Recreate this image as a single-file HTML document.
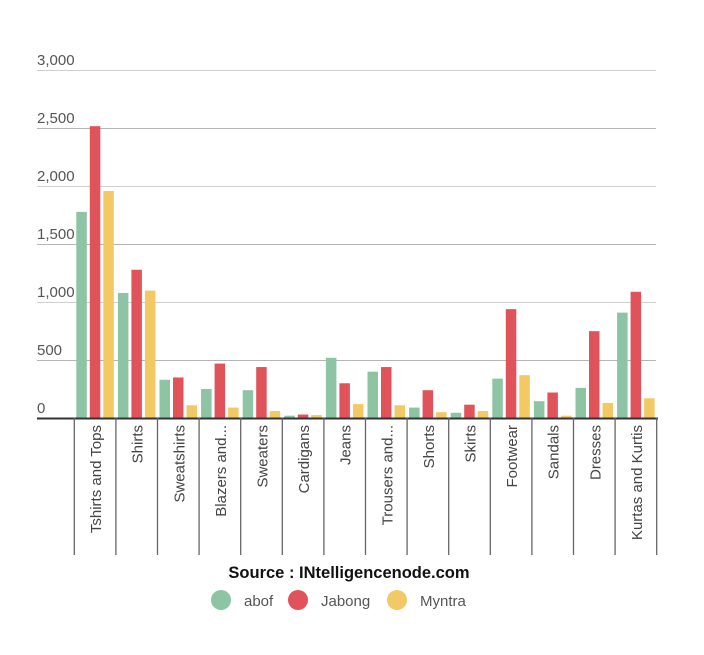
<!DOCTYPE html>
<html><head><meta charset="utf-8"><style>
html,body{margin:0;padding:0;background:#fff;}
svg{display:block;font-family:"Liberation Sans",Arial,sans-serif;}
</style></head><body>
<svg id="c" width="704" height="655" xmlns="http://www.w3.org/2000/svg">
<g stroke="#cfcfcf" stroke-width="1">
<line x1="37" x2="656" y1="70.5" y2="70.5"/>
<line x1="37" x2="656" y1="128.5" y2="128.5" stroke="#b5b5b5"/>
<line x1="37" x2="656" y1="186.5" y2="186.5"/>
<line x1="37" x2="656" y1="244.5" y2="244.5" stroke="#b5b5b5"/>
<line x1="37" x2="656" y1="302.5" y2="302.5"/>
<line x1="37" x2="656" y1="360.5" y2="360.5" stroke="#b5b5b5"/>
</g>
<g fill="#555" font-size="15">
<text x="37" y="65">3,000</text>
<text x="37" y="123">2,500</text>
<text x="37" y="181">2,000</text>
<text x="37" y="239">1,500</text>
<text x="37" y="297">1,000</text>
<text x="37" y="355">500</text>
<text x="37" y="413">0</text>
</g>
<g id="bars"></g>
<line x1="37" x2="658" y1="418.5" y2="418.5" stroke="#333" stroke-width="2"/>
<g id="ticks" stroke="#666" stroke-width="1.3"></g>
<g id="labels" fill="#444" font-size="15"></g>
<text x="349" y="578" text-anchor="middle" font-weight="bold" font-size="16.5" fill="#111">Source : INtelligencenode.com</text>
<circle cx="221" cy="600" r="10" fill="#8cc4a4"/>
<text x="244" y="606" font-size="15" fill="#555">abof</text>
<circle cx="298" cy="600" r="10" fill="#e0535a"/>
<text x="321" y="606" font-size="15" fill="#555">Jabong</text>
<circle cx="397" cy="600" r="10" fill="#f2c965"/>
<text x="420" y="606" font-size="15" fill="#555">Myntra</text>
</svg>
<script>
var d=[["Tshirts and Tops",1780,2520,1960],["Shirts",1080,1280,1100],["Sweatshirts",330,350,110],["Blazers and...",250,470,90],["Sweaters",240,440,60],["Cardigans",20,30,25],["Jeans",520,300,120],["Trousers and...",400,440,110],["Shorts",90,240,50],["Skirts",45,115,60],["Footwear",340,940,370],["Sandals",145,220,20],["Dresses",260,750,130],["Kurtas and Kurtis",910,1090,170]];
var col=["#8cc4a4","#e0535a","#f2c965"],ns="http://www.w3.org/2000/svg";
var B=document.getElementById("bars"),T=document.getElementById("ticks"),L=document.getElementById("labels");
function el(t,a,p){var e=document.createElementNS(ns,t);for(var k in a)e.setAttribute(k,a[k]);p.appendChild(e);return e;}
var x0=74.3,w=41.6;
for(var i=0;i<=14;i++){var x=x0+i*w;el("line",{x1:x,x2:x,y1:418,y2:555},T);}
d.forEach(function(r,i){var cx=x0+i*w;
for(var j=0;j<3;j++){var h=r[j+1]*0.1158;el("rect",{x:cx+2+j*13.5,y:418-h,width:10.5,height:h,fill:col[j]},B);}
var tx=cx+w/2+6;var t=el("text",{x:0,y:0,transform:"translate("+tx+",425) rotate(-90)","text-anchor":"end"},L);t.textContent=r[0];});
</script>
</body></html>
